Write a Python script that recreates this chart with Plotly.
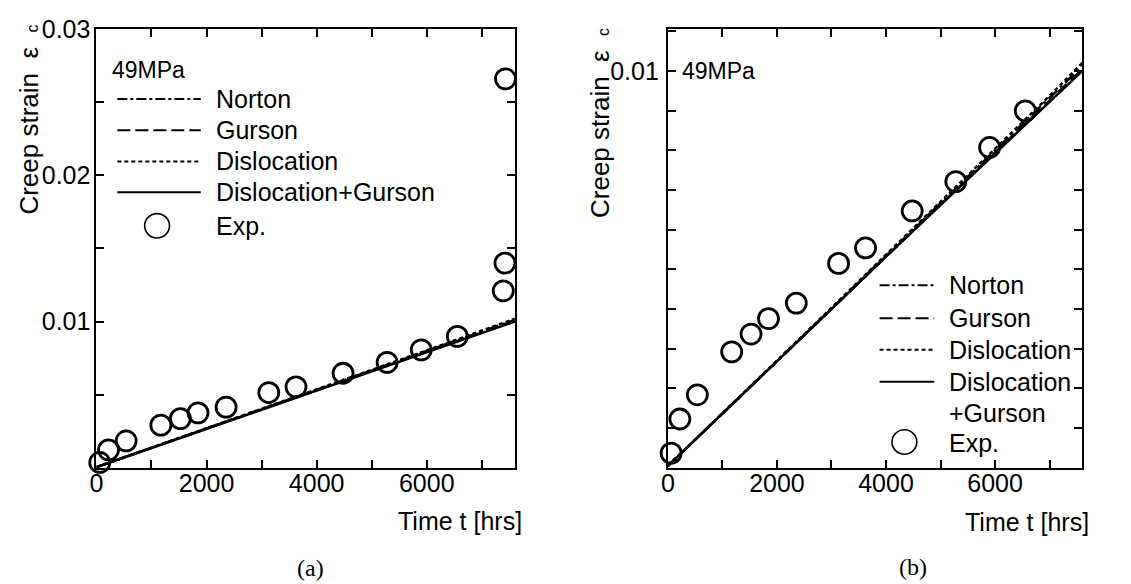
import plotly.graph_objects as go

# ---------------- data ----------------
exp_t = [60, 220, 540, 1170, 1525, 1845, 2355, 3130, 3625, 4480, 5280, 5900, 6555, 7390, 7420, 7430]
exp_eps = [0.00037, 0.00123, 0.00184, 0.00292, 0.00337, 0.00376, 0.00415, 0.00515, 0.00554,
           0.00647, 0.00721, 0.00807, 0.00899, 0.0121, 0.0140, 0.0266]

model_t = [0, 1000, 2000, 3000, 4000, 5000, 6000, 7000, 7600]
norton = [0.00005, 0.00136, 0.00268, 0.00401, 0.00534, 0.00666, 0.00799, 0.00931, 0.01012]
gurson = [0.00005, 0.00136, 0.00268, 0.00400, 0.00532, 0.00663, 0.00795, 0.00925, 0.01004]
dislocation = [0.00005, 0.00137, 0.00270, 0.00403, 0.00537, 0.00670, 0.00803, 0.00937, 0.01020]
disl_gurson = [0.00005, 0.00136, 0.00268, 0.00400, 0.00532, 0.00662, 0.00793, 0.00922, 0.01000]

x_ticks = [0, 1000, 2000, 3000, 4000, 5000, 6000, 7000]
x_ticktext = ["0", "", "2000", "", "4000", "", "6000", ""]
ya_ticks = [0.005, 0.01, 0.015, 0.02, 0.025, 0.03]
ya_ticktext = ["", "0.01", "", "0.02", "", "0.03"]
yb_ticks = [0.001, 0.002, 0.003, 0.004, 0.005, 0.006, 0.007, 0.008, 0.009, 0.01, 0.011]
yb_ticktext = ["", "", "", "", "", "", "", "", "", "0.01", ""]

# ---------------- layout helpers ----------------
W, H = 1131, 584
FONT = "Liberation Sans, Arial, sans-serif"
FS = 25


def px(x):
    return x / W


def py(y):
    return 1 - y / H


fig = go.Figure()

series = [
    (norton, "Norton", "12px,4px,3px,4px"),
    (gurson, "Gurson", "12px,6px"),
    (dislocation, "Dislocation", "4px,3px"),
    (disl_gurson, "Dislocation+Gurson", "solid"),
]

for xa, ya in (("x", "y"), ("x2", "y2")):
    for vals, name, dash in series:
        fig.add_trace(go.Scatter(x=model_t, y=vals, mode="lines", name=name, xaxis=xa, yaxis=ya,
                                 line=dict(color="black", width=2.5, dash=dash), showlegend=False,
                                 cliponaxis=False))
    fig.add_trace(go.Scatter(x=exp_t, y=exp_eps, mode="markers", name="Exp.", xaxis=xa, yaxis=ya,
                             marker=dict(symbol="circle-open", size=20, color="black",
                                         line=dict(width=2.8, color="black")),
                             showlegend=False, cliponaxis=False))

axis_common = dict(showgrid=False, zeroline=False, showline=True, linecolor="black", linewidth=2,
                   mirror="ticks", ticks="inside", ticklen=8, tickwidth=1.5, tickcolor="black",
                   tickfont=dict(family=FONT, size=FS, color="black"))

fig.update_layout(
    width=W, height=H, margin=dict(l=0, r=0, t=0, b=0),
    paper_bgcolor="white", plot_bgcolor="white", showlegend=False,
    xaxis=dict(domain=[px(90), px(511)], range=[0, 7600], anchor="y", ticklabelstandoff=-8,
               tickmode="array", tickvals=x_ticks, ticktext=x_ticktext, **axis_common),
    yaxis=dict(domain=[py(465), py(15.5)], range=[0, 0.03], anchor="x",
               tickmode="array", tickvals=ya_ticks, ticktext=ya_ticktext, ticklabelstandoff=-1, **axis_common),
    xaxis2=dict(domain=[px(665), px(1082)], range=[0, 7600], anchor="y2", ticklabelstandoff=-8,
                tickmode="array", tickvals=x_ticks, ticktext=x_ticktext, **axis_common),
    yaxis2=dict(domain=[py(465), py(15.5)], range=[0, 0.01105], anchor="x2",
                tickmode="array", tickvals=yb_ticks, ticktext=yb_ticktext, ticklabelstandoff=2, **axis_common),
)

shapes = []
annots = []


def text(x, y, s, size=FS, xanchor="left", yanchor="middle", family=FONT, angle=0):
    annots.append(dict(x=px(x), y=py(y), xref="paper", yref="paper", text=s, showarrow=False,
                       xanchor=xanchor, yanchor=yanchor, textangle=angle, borderpad=0,
                       font=dict(family=family, size=size, color="black")))


def hline(x0, x1, y, dash):
    shapes.append(dict(type="line", xref="paper", yref="paper", x0=px(x0), x1=px(x1), y0=py(y), y1=py(y),
                       line=dict(color="black", width=2, dash=dash)))


def circle(cx, cy, r):
    shapes.append(dict(type="circle", xref="paper", yref="paper", x0=px(cx - r), x1=px(cx + r),
                       y0=py(cy + r), y1=py(cy - r), line=dict(color="black", width=1.6)))


# ---- left panel legend ----
text(105, 57, "49MPa", size=23)
left_rows = [(87, "Norton", "10px,3px,3px,3px"), (119, "Gurson", "13px,5px"),
             (151, "Dislocation", "4px,3px"), (182.7, "Dislocation+Gurson", "solid")]
for yy, lab, dash in left_rows:
    hline(111, 195, yy, dash)
    text(209, yy, lab)
circle(151, 217, 12.5)
text(209, 217, "Exp.")

# ---- right panel legend ----
text(678, 58, "49MPa", size=23)
right_rows = [(278, "Norton", "10px,3px,3px,3px"), (311.7, "Gurson", "13px,5px"),
              (344, "Dislocation", "4px,3px"), (376.7, "Dislocation", "solid")]
for yy, lab, dash in right_rows:
    hline(878, 933, yy, dash)
    text(947, yy, lab)
text(947, 408.5, "+Gurson")
circle(903, 438.5, 12.5)
text(947, 440, "Exp.")

# ---- axis titles ----
ytitle = "Creep strain&nbsp; ε&nbsp; <span style='font-size:16px'>c</span>"
text(22, 10, ytitle, size=26, xanchor="center", yanchor="top", angle=-90)
text(596, 13, ytitle, size=26, xanchor="center", yanchor="top", angle=-90)
text(519, 519, "Time t [hrs]", xanchor="right")
text(1090, 520, "Time t [hrs]", xanchor="right")

# ---- captions ----
SERIF = "Liberation Serif, Times New Roman, serif"
text(305, 568, "(a)", family=SERIF, size=24, xanchor="center")
text(912, 567, "(b)", family=SERIF, size=24, xanchor="center")

fig.update_layout(shapes=shapes, annotations=annots)
fig.write_html("out.html")
